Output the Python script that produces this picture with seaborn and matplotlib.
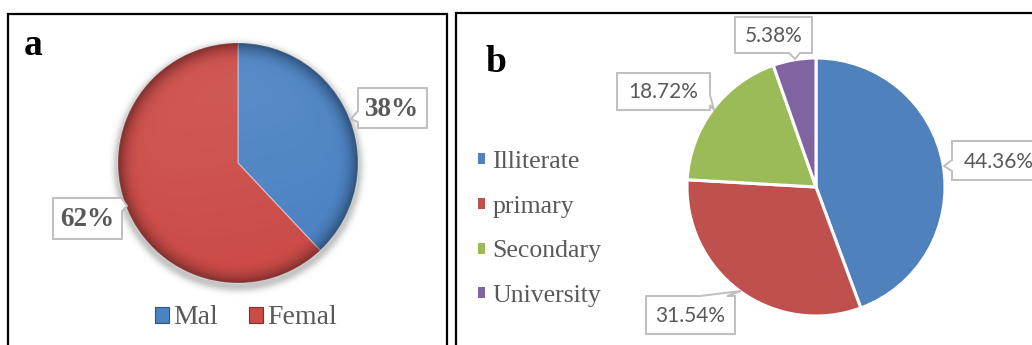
import numpy as np
import matplotlib
matplotlib.use("Agg")
import matplotlib.pyplot as plt
from matplotlib.patches import Polygon, Circle, Patch
import seaborn as sns

# ---- data -------------------------------------------------------------
sex_labels = ["Mal", "Femal"]
sex_share = [38, 62]

edu_labels = ["Illiterate", "primary", "Secondary", "University"]
edu_share = [44.36, 31.54, 18.72, 5.38]

# ---- styling ----------------------------------------------------------
sns.set_theme(style="white")
sex_colors = ["#4B82C2", "#CB4B47"]
edu_colors = sns.color_palette(["#4F81BD", "#C0504D", "#9BBB59", "#8064A2"])
TEXT_GRAY = "#595959"
BOX_EDGE = "#BFBFBF"
SERIF = "Liberation Serif"
SANS = "Lato"

W, H = 1032, 345
fig = plt.figure(figsize=(W / 100, H / 100), dpi=100)
ax = fig.add_axes([0, 0, 1, 1])


def reset_view():
    ax.set_xlim(0, W)
    ax.set_ylim(H, 0)
    ax.set_aspect("auto")
    ax.axis("off")


reset_view()

# panel frames
for x0, y0, x1 in [(8, 14, 447), (456, 13, W + 20)]:
    ax.plot([x0, x0, x1, x1], [H + 20, y0, y0, H + 20], color="black",
            lw=1.6, solid_joinstyle="miter", zorder=1)

# ---- panel a: gender pie with bevel shading ----------------------------
ca, ra = (238, 163), 120

# soft drop shadow around the disc
g = np.linspace(-1.2, 1.2, 400)
gx, gy = np.meshgrid(g, g)
rs = np.hypot(gx, gy - 0.03)
sh = np.zeros(gx.shape + (4,))
sh[..., :3] = 0.35
sh[..., 3] = 0.35 * np.exp(-((np.clip(rs - 1.0, 0, None)) / 0.045) ** 2) * (rs > 0.97)
ax.imshow(sh, extent=(ca[0] - 1.2 * ra, ca[0] + 1.2 * ra, ca[1] + 1.2 * ra, ca[1] - 1.2 * ra),
          origin="upper", zorder=1.5, interpolation="bilinear")

wedges_a, _ = ax.pie(sex_share, colors=sex_colors, startangle=-90, counterclock=True,
                     center=ca, radius=ra, frame=True,
                     wedgeprops=dict(edgecolor=(1, 1, 1, 0.35), linewidth=1.0))
for w in wedges_a:
    w.set_zorder(2)

# radial bevel: darker rim, lighter upper-left interior
g = np.linspace(-1, 1, 500)
gx, gy = np.meshgrid(g, g)
rho = np.hypot(gx, gy)
dark = np.zeros(gx.shape + (4,))
t = np.clip((rho - 0.82) / 0.18, 0, 1)
dark[..., 3] = 0.38 * t ** 2.2
light = np.ones(gx.shape + (4,))
light[..., 3] = 0.10 * np.clip(0.5 * (1 - gy) - 0.1 * gx, 0, 1) * np.clip(1 - rho ** 6, 0, 1)
clip_disc = Circle(ca, ra, transform=ax.transData)
for layer in (light, dark):
    im = ax.imshow(layer, extent=(ca[0] - ra, ca[0] + ra, ca[1] + ra, ca[1] - ra),
                   origin="upper", zorder=3, interpolation="bilinear")
    im.set_clip_path(clip_disc)

reset_view()


def callout(x0, y0, x1, y1, side, b0, b1, tip, text, **kw):
    tl, tr, br, bl = (x0, y0), (x1, y0), (x1, y1), (x0, y1)
    if side == "top":
        pts = [tl, (b0, y0), tip, (b1, y0), tr, br, bl]
    elif side == "right":
        pts = [tl, tr, (x1, b0), tip, (x1, b1), br, bl]
    elif side == "bottom":
        pts = [tl, tr, br, (b1, y1), tip, (b0, y1), bl]
    else:
        pts = [tl, tr, br, bl, (x0, b1), tip, (x0, b0)]
    ax.add_patch(Polygon(pts, closed=True, facecolor="white", edgecolor=BOX_EDGE,
                         lw=1.4, joinstyle="miter", zorder=5))
    ax.text((x0 + x1) / 2, (y0 + y1) / 2 + 1, text, ha="center", va="center",
            color=TEXT_GRAY, zorder=6, **kw)


sex_text = [f"{v:.0f}%" for v in sex_share]
callout(358, 88, 427, 128, "left", 111, 122, (351, 119), sex_text[0],
        family=SERIF, fontsize=19.5, fontweight="bold")
callout(53, 198, 122, 239, "right", 199, 211, (127, 206), sex_text[1],
        family=SERIF, fontsize=19.5, fontweight="bold")

ax.text(24, 55, "a", family=SERIF, fontweight="bold", fontsize=27, color="black",
        ha="left", va="baseline")

sex_handles = [Patch(facecolor=c, edgecolor=sns.set_hls_values(c, l=0.35), lw=0.8)
               for c in sex_colors]
leg_a = ax.legend(sex_handles, sex_labels, ncol=2, loc="center",
                  bbox_to_anchor=(246, 318), bbox_transform=ax.transData,
                  frameon=False, prop=dict(family=SERIF, size=20),
                  handlelength=0.5, handleheight=0.5, handletextpad=0.15,
                  columnspacing=1.15, borderpad=0, borderaxespad=0)
for txt in leg_a.get_texts():
    txt.set_color(TEXT_GRAY)
ax.add_artist(leg_a)

# ---- panel b: education pie ------------------------------------------
cb, rb = (816, 187), 129
wedges_b, _ = ax.pie(edu_share, colors=edu_colors, startangle=-90, counterclock=True,
                     center=cb, radius=rb, frame=True,
                     wedgeprops=dict(edgecolor="white", linewidth=2.2))
for w in wedges_b:
    w.set_zorder(2)
reset_view()

edu_text = [f"{v:.2f}%" for v in edu_share]
lab_kw = dict(family=SANS, fontsize=15)
callout(952, 141, 1046, 180, "left", 160, 171, (944, 166), edu_text[0], **lab_kw)
callout(646, 296, 735, 334, "top", 700, 727, (741, 291), edu_text[1], **lab_kw)
callout(617, 73, 710, 110, "right", 95, 105, (714, 110), edu_text[2], **lab_kw)
callout(735, 17, 812, 53, "bottom", 789, 800, (795, 59), edu_text[3], **lab_kw)

ax.text(486, 72, "b", family=SERIF, fontweight="bold", fontsize=27, color="black",
        ha="left", va="baseline")

edu_handles = [Patch(facecolor=c, edgecolor="none") for c in edu_colors]
leg_b = ax.legend(edu_handles, edu_labels, ncol=1, loc="center left",
                  bbox_to_anchor=(478, 229), bbox_transform=ax.transData,
                  frameon=False, prop=dict(family=SERIF, size=18.5),
                  handlelength=0.28, handleheight=0.28, handletextpad=0.28,
                  labelspacing=0.88, borderpad=0, borderaxespad=0)
for txt in leg_b.get_texts():
    txt.set_color(TEXT_GRAY)

reset_view()
fig.savefig("out.png", dpi=100, facecolor="white")
